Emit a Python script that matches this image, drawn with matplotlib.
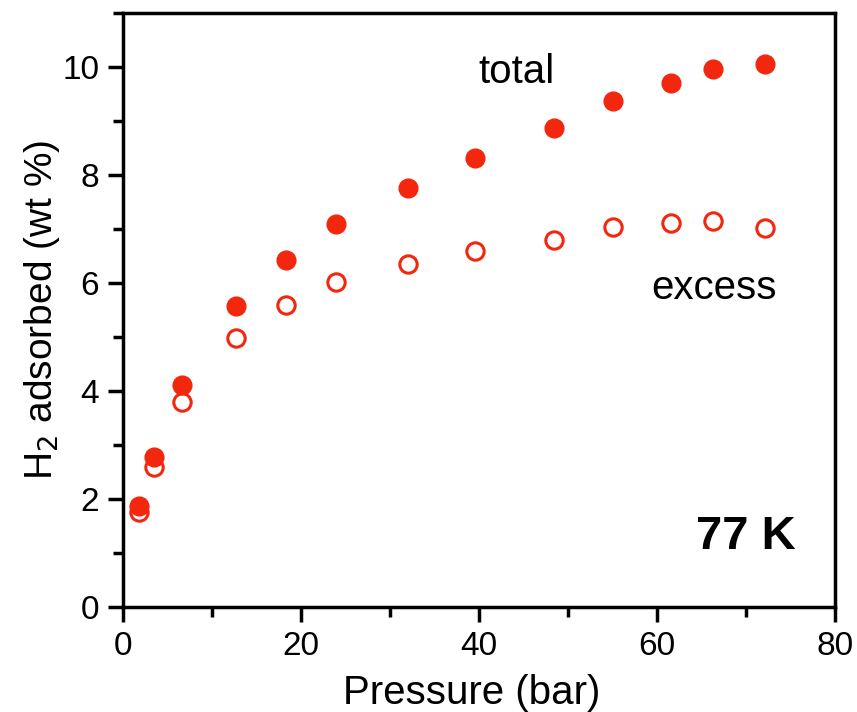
import matplotlib
matplotlib.use("Agg")
from matplotlib import pyplot as plt
from matplotlib.ticker import MultipleLocator

plt.rcParams['font.family'] = ['Liberation Sans', 'DejaVu Sans']

# pressure (bar) and uptake (wt %)
p_total = [1.8, 3.5, 6.6, 12.7, 18.3, 23.9, 32.0, 39.6, 48.4, 55.1, 61.6, 66.3, 72.1]
w_total = [1.87, 2.78, 4.11, 5.57, 6.43, 7.09, 7.76, 8.31, 8.87, 9.37, 9.70, 9.97, 10.06]
p_excess = [1.8, 3.5, 6.6, 12.7, 18.3, 23.9, 32.0, 39.6, 48.4, 55.1, 61.6, 66.3, 72.1]
w_excess = [1.76, 2.59, 3.80, 4.98, 5.59, 6.02, 6.35, 6.59, 6.80, 7.04, 7.11, 7.15, 7.02]

red = '#f3260e'

fig = plt.figure(figsize=(8.57, 7.12), dpi=100)
ax = fig.add_axes([0.1435, 0.1475, 0.9743 - 0.1435, 0.9817 - 0.1475])

ax.plot(p_total, w_total, 'o', color=red, ms=13.5, mec=red, zorder=3)
ax.plot(p_excess, w_excess, 'o', mfc='white', mec=red, mew=2.2, ms=12.5, zorder=2)

ax.set_xlim(0, 80)
ax.set_ylim(0, 11)
ax.xaxis.set_major_locator(MultipleLocator(20))
ax.xaxis.set_minor_locator(MultipleLocator(10))
ax.yaxis.set_major_locator(MultipleLocator(2))
ax.yaxis.set_minor_locator(MultipleLocator(1))

for s in ax.spines.values():
    s.set_linewidth(2.5)
ax.tick_params(which='major', direction='out', length=11, width=2.5, labelsize=24, pad=6)
ax.tick_params(which='minor', direction='out', length=7, width=2.5)

ax.set_xlabel('Pressure (bar)', fontsize=29)
ax.xaxis.set_label_coords(0.49, -0.112)
ax.set_ylabel('H$_2$ adsorbed (wt %)', fontsize=28, labelpad=0)

ax.text(44.2, 9.9, 'total', fontsize=29, ha='center', va='center')
ax.text(66.4, 5.9, 'excess', fontsize=29, ha='center', va='center')
ax.text(75.6, 1.3, '77 K', fontsize=34, fontweight='bold', ha='right', va='center')

fig.savefig('out.png', dpi=100)
